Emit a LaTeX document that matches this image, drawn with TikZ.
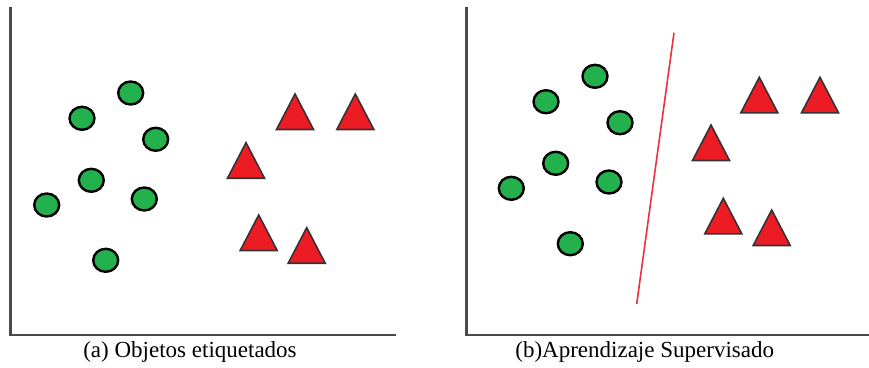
\documentclass[tikz,border=0pt]{standalone}
\usepackage{fontspec}
\setmainfont{Liberation Serif}
\definecolor{ptgreen}{HTML}{22B14C}
\definecolor{ptred}{HTML}{ED1C24}
\definecolor{axisgray}{HTML}{4A4A4A}
\definecolor{sepred}{HTML}{E8333A}
\tikzset{
  axisline/.style={draw=axisgray, line width=2.6pt, line cap=rect},
  dot/.style={draw=black, fill=ptgreen, line width=2.4pt},
  tri/.style={draw=black!80, fill=ptred, line width=1.6pt, line join=miter},
  sep/.style={draw=sepred, line width=1.6pt},
  caption/.style={anchor=base, inner sep=0pt, font=\fontsize{23}{27}\selectfont}
}
\newcommand{\gdot}[2]{\draw[dot] (#1,#2) ellipse [x radius=12.5pt, y radius=11.5pt];}
\newcommand{\rtri}[2]{\draw[tri] (#1,#2) -- ++(18.5,35.5) -- ++(-37,0) -- cycle;}
\begin{document}
\begin{tikzpicture}[x=1pt,y=-1pt]
\useasboundingbox (0,0) rectangle (869,367);
% ---- panel (a)
\draw[axisline] (10.7,8) -- (10.7,335) -- (395,335);
\gdot{130.7}{93}
\gdot{82}{118.3}
\gdot{155.7}{139.3}
\gdot{91.3}{180.3}
\gdot{46.7}{205}
\gdot{144.3}{199}
\gdot{105.7}{260.3}
\rtri{295}{94}
\rtri{355.3}{94}
\rtri{246}{142.7}
\rtri{258.7}{215}
\rtri{306.7}{227.7}
\node[caption] (capa) at (190,357) {(a) Objetos etiquetados};
% ---- panel (b)
\draw[axisline] (466.7,8) -- (466.7,335) -- (869,335);
\draw[sep] (674,32.7) -- (636.7,304);
\gdot{595}{76.3}
\gdot{546}{101.7}
\gdot{620}{122.7}
\gdot{555.7}{163.3}
\gdot{511.3}{188.3}
\gdot{609}{182}
\gdot{570.3}{243.7}
\rtri{759.3}{77.3}
\rtri{820}{77.3}
\rtri{711}{125}
\rtri{723.3}{198.3}
\rtri{771.7}{210}
\node[caption] (capb) at (644.7,357) {(b)Aprendizaje Supervisado};
\end{tikzpicture}
\end{document}
